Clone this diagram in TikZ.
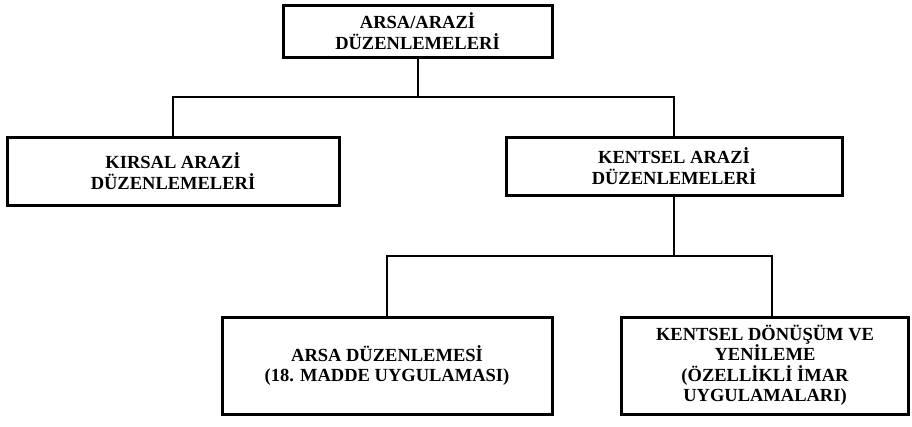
\documentclass[tikz,border=0pt]{standalone}
\usepackage{fontspec}
\setmainfont{Liberation Serif}
\begin{document}
\begin{tikzpicture}[x=1pt,y=-1pt,
  box/.style={draw=black, line width=3pt, fill=white, align=center,
    font=\fontsize{18.5}{20.5}\selectfont\bfseries, inner sep=0pt},
  link/.style={draw=black, line width=2pt}]
\useasboundingbox (0,0) rectangle (912,426);

% hierarchy boxes
\node[box, minimum width=269pt, minimum height=52pt] (root) at (417.5,31)
  {ARSA/ARAZİ\\DÜZENLEMELERİ};
\node[box, minimum width=332pt, minimum height=68pt] (kirsal) at (173,171)
  {KIRSAL ARAZİ\\DÜZENLEMELERİ};
\node[box, minimum width=336pt, minimum height=58pt] (kentsel) at (674,166)
  {KENTSEL ARAZİ\\DÜZENLEMELERİ};
\node[box, minimum width=330pt, minimum height=97pt] (arsa) at (387,365.5)
  {ARSA DÜZENLEMESİ\\(18. MADDE UYGULAMASI)};
\node[box, minimum width=287pt, minimum height=97pt] (donusum) at (765,365.5)
  {KENTSEL DÖNÜŞÜM VE\\YENİLEME\\(ÖZELLİKLİ İMAR\\UYGULAMALARI)};

% branch points
\coordinate (j1) at (417.5,97);
\coordinate (j2) at (674,256);

% connectors
\draw[link] (root.south) -- (j1);
\draw[link] (kirsal.north) |- (j1) -| (kentsel.north);
\draw[link] (kentsel.south) -- (j2);
\draw[link] (arsa.north) |- (j2) -| ([xshift=7pt]donusum.north);
\end{tikzpicture}
\end{document}
